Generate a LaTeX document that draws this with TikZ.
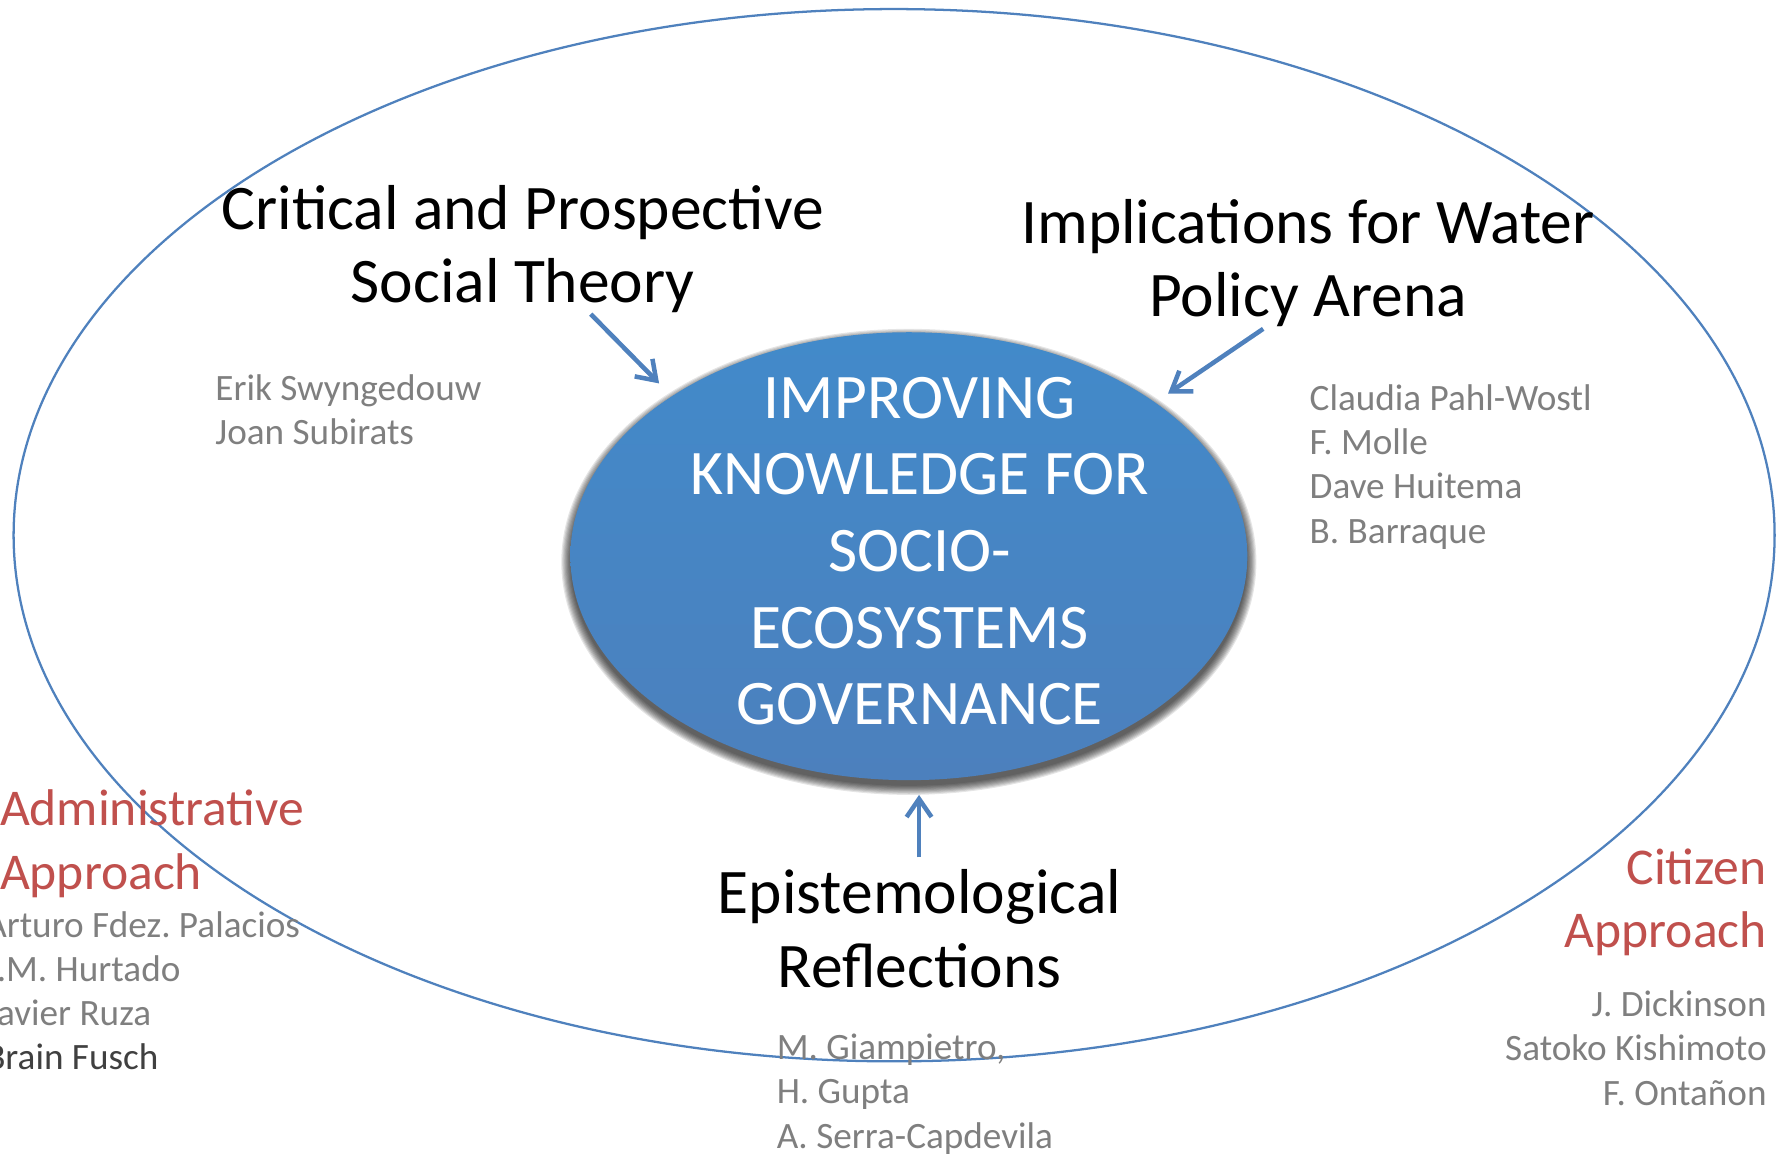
\documentclass[tikz,border=0pt]{standalone}
\usepackage{fontspec}
\setmainfont{Carlito}
\usetikzlibrary{shapes.geometric}
\usetikzlibrary{arrows.meta}
\definecolor{linkblue}{HTML}{4F81BD}
\definecolor{apred}{HTML}{C0504D}
\definecolor{namegray}{HTML}{7F7F7F}
\definecolor{namedark}{HTML}{404040}
\definecolor{coretop}{HTML}{428ACA}
\definecolor{corebot}{HTML}{4C80BD}

\begin{document}
\begin{tikzpicture}
[x=0.5pt,y=0.5pt,%
  every node/.style={inner sep=0pt,outer sep=0pt},%
  heading/.style={font=\fontsize{28}{32.5}\selectfont,align=center,anchor=base},%
  approach/.style={font=\fontsize{22.75}{28}\selectfont,text=apred},%
  names/.style={font=\fontsize{16.4}{19.5}\selectfont,text=namegray},%
  link/.style={linkblue,line width=2pt,-{Straight Barb[length=8pt,width=11pt]}}]
\useasboundingbox (0,0) rectangle (1568,1019);
\clip (0,0) rectangle (1568,1019);
% outer ring
\draw[linkblue,line width=1pt] (788.5,547) ellipse [x radius=776.5,y radius=464];
% core with its shadow
\coordinate (c0) at (801.5,528.5);
\foreach \s in {0,...,8}
  \fill[black,opacity=0.1] ([yshift=-2.5pt]c0) ellipse [x radius=298.5+\s,y radius=197.5+\s];
\node[ellipse,minimum width=298.5pt,minimum height=197.5pt,top color=coretop,bottom color=corebot] (core) at (c0) {};
\node[font=\fontsize{28}{33.75}\selectfont,text=white,align=center,anchor=base] (corelabel) at (811,380)
  {IMPROVING\\KNOWLEDGE FOR\\SOCIO-\\ECOSYSTEMS\\GOVERNANCE};
% three headings (base = last line)
\node[heading] (theory) at (461,752) {Critical and Prospective\\Social Theory};
\node[heading] (policy) at (1153.5,739.5) {Implications for Water\\Policy Arena};
\node[heading] (episteme) at (811,148) {Epistemological\\Reflections};
\node[names,align=left,anchor=base west] (theorynames) at (190,627) {Erik Swyngedouw\\Joan Subirats};
\node[names,align=left,anchor=base west] (policynames) at (1155,540)
  {Claudia Pahl-Wostl\\F. Molle\\Dave Huitema\\B. Barraque};
\node[names,align=left,anchor=base west] (epistnames) at (685,6.5)
  {M. Giampietro,\\H. Gupta\\A. Serra-Capdevila};
% the two approaches
\node[approach,align=left,anchor=base west] (admin) at (0,235) {Administrative\\Approach};
\node[names,align=left,anchor=base west] (adminnames) at (-13,75.5)
  {Arturo Fdez.\ Palacios\\J.M. Hurtado\\Javier Ruza\\\textcolor{namedark}{Brain Fusch}};
\node[approach,align=right,anchor=base east] (citizen) at (1558,183) {Citizen\\Approach};
\node[names,align=right,anchor=base east] (citizennames) at (1558,44.5)
  {J. Dickinson\\Satoko Kishimoto\\F. Ontañon};
% arrows into the core
\coordinate (t1) at (521,742);
\coordinate (t2) at (1114,729);
\coordinate (t3) at (810.5,263);
\draw[link,shorten >=8pt] (t1) -- (core.146.6);
\draw[link,shorten >=7pt] (t2) -- (core.32.1);
\draw[link,shorten >=6.5pt] (t3) -- (t3 |- core.south);
\end{tikzpicture}
\end{document}
